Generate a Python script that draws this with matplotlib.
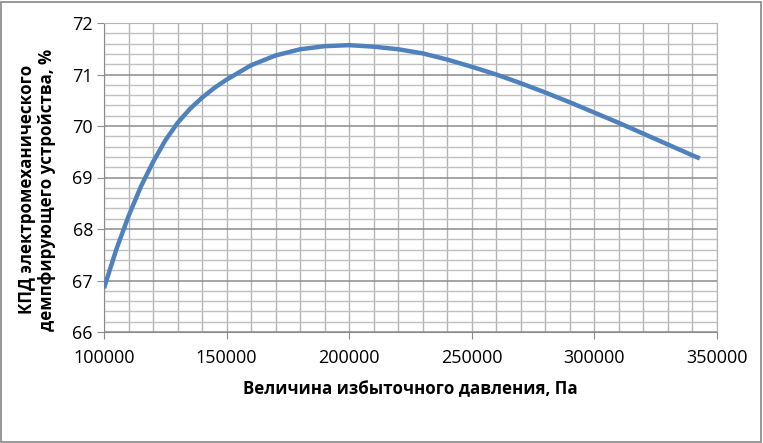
import matplotlib
matplotlib.use('Agg')
import matplotlib.pyplot as plt
from matplotlib.ticker import MultipleLocator
from matplotlib.patches import Rectangle

plt.rcParams['font.family'] = ['Open Sans', 'DejaVu Sans']

# давление, Па
pressure = [100000, 105000, 110000, 115000, 120000, 125000, 130000, 135000,
            140000, 145000, 150000, 160000, 170000, 180000, 190000, 200000,
            210000, 220000, 230000, 240000, 250000, 260000, 270000, 280000,
            290000, 300000, 310000, 320000, 330000, 340000, 343000]
# КПД, %
efficiency = [66.85, 67.60, 68.25, 68.82, 69.30, 69.72, 70.06, 70.33,
              70.55, 70.74, 70.90, 71.18, 71.37, 71.49, 71.55, 71.57,
              71.54, 71.49, 71.41, 71.29, 71.15, 71.00, 70.83, 70.65,
              70.46, 70.26, 70.06, 69.85, 69.64, 69.43, 69.37]

fig = plt.figure(figsize=(7.63, 4.43), dpi=100)
ax = fig.add_axes([104 / 763, 1 - 332 / 443, 613 / 763, 309 / 443])

ax.plot(pressure, efficiency, color='#4F81BD', lw=3.2, solid_capstyle='butt',
        solid_joinstyle='round', zorder=3)

ax.set_xlim(100000, 350000)
ax.set_ylim(66, 72)
ax.xaxis.set_major_locator(MultipleLocator(50000))
ax.xaxis.set_minor_locator(MultipleLocator(10000))
ax.yaxis.set_major_locator(MultipleLocator(1))
ax.yaxis.set_minor_locator(MultipleLocator(0.2))

ax.grid(which='major', axis='y', color='#8c8c8c', lw=1.1)
ax.grid(which='minor', axis='y', color='#c0c0c0', lw=1.0)
ax.grid(which='both', axis='x', color='#b4b4b4', lw=1.0)
ax.set_axisbelow(True)

for s in ['top', 'right']:
    ax.spines[s].set_color('#b4b4b4')
ax.spines['left'].set_color('#8c8c8c')
ax.spines['bottom'].set_color('#8c8c8c')

ax.tick_params(which='major', direction='out', length=5, color='#8c8c8c',
               labelsize=13, pad=3, labelcolor='black')
ax.tick_params(which='minor', length=0)
ax.tick_params(axis='x', pad=7)

ax.set_xlabel('Величина избыточного давления, Па', fontsize=12.2, fontweight='bold', labelpad=10)
ax.set_ylabel('КПД электромеханического\nдемпфирующего устройства, %',
              fontsize=12.2, fontweight='bold', linespacing=1.15)
ax.yaxis.set_label_coords(-0.078, 0.46)

fig.patches.append(Rectangle((1.5 / 763, 1.5 / 443), 759.5 / 763, 440 / 443,
                             transform=fig.transFigure, fill=False,
                             edgecolor='#868686', lw=1.2))

fig.savefig('out.png', dpi=100)
